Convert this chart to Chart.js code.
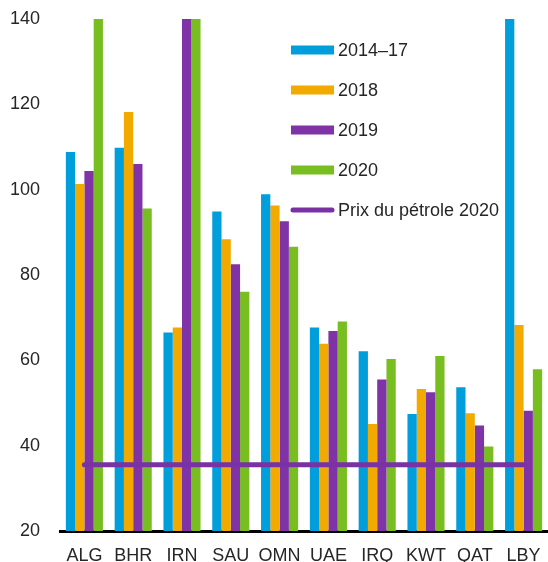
<!DOCTYPE html>
<html lang="fr">
<head>
    <meta charset="UTF-8">
    <title>Prix d'équilibre budgétaire du pétrole</title>
    <script src="https://cdn.jsdelivr.net/npm/chart.js"></script>
    <style>
        html, body { margin: 0; padding: 0; background: #fff; }
        #wrap { width: 548px; height: 562px; }
    </style>
</head>
<body>
    <div id="wrap">
        <canvas id="oilChart" width="548" height="562"></canvas>
    </div>

    <script>
        // data (values above 140 are cut off in the original)
        const countries = ['ALG', 'BHR', 'IRN', 'SAU', 'OMN', 'UAE', 'IRQ', 'KWT', 'QAT', 'LBY'];
        const y2014_17 = [108.8, 109.8, 66.5, 94.9, 98.9, 67.7, 62.1, 47.4, 53.7, 180];
        const y2018    = [101.3, 118.2, 67.7, 88.4, 96.3, 63.9, 45.1, 53.3, 47.6, 68.3];
        const y2019    = [104.4, 106.0, 155, 82.5, 92.6, 66.9, 55.5, 52.5, 44.7, 48.2];
        const y2020    = [157, 95.6, 195, 76.1, 86.6, 69.1, 60.3, 61.0, 39.8, 57.9];
        const oilPrice2020 = [35.5, 35.5, 35.5, 35.5, 35.5, 35.5, 35.5, 35.5, 35.5, 35.5];
        const yTicks = [20, 40, 60, 80, 100, 120, 140];

        const textColor = '#262626';
        const fontFamily = '"Liberation Sans", Arial, sans-serif';

        // legend drawn inside the plot, top right
        const insideLegend = {
            id: 'insideLegend',
            afterDraw(chart) {
                const ctx = chart.ctx;
                const x0 = 291, sw = 43, tx = 338;
                let y = 50;
                ctx.save();
                ctx.font = '18px ' + fontFamily;
                ctx.textBaseline = 'middle';
                chart.data.datasets.forEach(ds => {
                    if (ds.type === 'line') {
                        ctx.strokeStyle = ds.borderColor;
                        ctx.lineWidth = 5;
                        ctx.lineCap = 'round';
                        ctx.beginPath();
                        ctx.moveTo(x0 + 2, y);
                        ctx.lineTo(x0 + sw - 2, y);
                        ctx.stroke();
                    } else {
                        ctx.fillStyle = ds.backgroundColor;
                        ctx.fillRect(x0, y - 4.5, sw, 9);
                    }
                    ctx.fillStyle = textColor;
                    ctx.fillText(ds.label, tx, y + 1);
                    y += 40;
                });
                ctx.restore();
            }
        };

        const ctx = document.getElementById('oilChart').getContext('2d');
        new Chart(ctx, {
            type: 'bar',
            data: {
                labels: countries,
                datasets: [
                    { label: '2014–17', data: y2014_17, backgroundColor: '#009EDB', order: 1 },
                    { label: '2018', data: y2018, backgroundColor: '#F2A900', order: 1 },
                    { label: '2019', data: y2019, backgroundColor: '#7F33A6', order: 1 },
                    { label: '2020', data: y2020, backgroundColor: '#78BE21', order: 1 },
                    {
                        type: 'line', label: 'Prix du pétrole 2020', data: oilPrice2020,
                        borderColor: '#7832A3', borderWidth: 5, borderCapStyle: 'round',
                        pointRadius: 0, fill: false, order: 0
                    }
                ]
            },
            options: {
                responsive: false,
                animation: false,
                layout: { padding: { top: 19, right: 0, left: 0, bottom: 0 } },
                datasets: {
                    bar: { categoryPercentage: 0.76, barPercentage: 1.0 }
                },
                plugins: {
                    legend: { display: false },
                    tooltip: { enabled: false }
                },
                scales: {
                    x: {
                        grid: { display: false },
                        border: { display: true, color: '#000', width: 3 },
                        ticks: {
                            color: textColor,
                            font: { family: fontFamily, size: 18 },
                            padding: 6,
                            maxRotation: 0
                        },
                        afterFit(scale) { scale.height = 31; }
                    },
                    y: {
                        min: 20,
                        max: 140,
                        grid: { display: false, drawTicks: false },
                        border: { display: false },
                        afterBuildTicks(scale) { scale.ticks = yTicks.map(v => ({ value: v })); },
                        ticks: {
                            color: textColor,
                            font: { family: fontFamily, size: 18 },
                            padding: 20
                        },
                        afterFit(scale) {
                            scale.width = 60;
                            // the tick padding is horizontal only, don't let it push the plot down
                            scale.paddingTop = 11;
                            scale.paddingBottom = 11;
                        }
                    }
                }
            },
            plugins: [insideLegend]
        });
    </script>
</body>
</html>
